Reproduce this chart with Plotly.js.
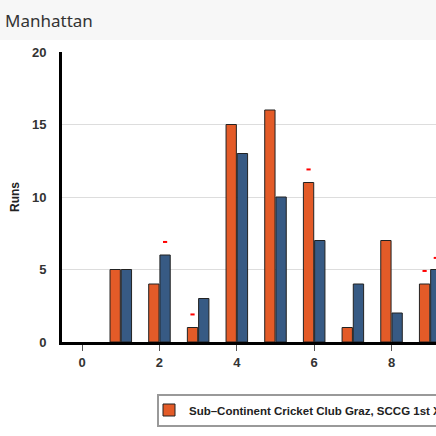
<!DOCTYPE html>
<html>
<head>
<meta charset="utf-8">
<script src="https://cdn.plot.ly/plotly-3.0.1.min.js"></script>
<style>html,body{margin:0;padding:0;background:#fff;}#chart{width:436px;height:436px;}</style>
</head>
<body>
<div id="chart"></div>
<script>
var overs = [1, 2, 3, 4, 5, 6, 7, 8, 9];
var teamARuns = [5, 4, 1, 15, 16, 11, 1, 7, 4];
var teamBRuns = [5, 6, 3, 13, 10, 7, 4, 2, 5];
var teamAName = "Sub–Continent Cricket Club Graz, SCCG 1st XI";
var teamBName = "Opposition";
var teamAWicketOvers = [3, 6, 9];
var teamAWicketY = [1.9, 11.9, 4.9];
var teamBWicketOvers = [2, 9];
var teamBWicketY = [6.9, 5.8];

var orange = "#e35b28", blue = "#375a84";
var M = {l: 62, r: 0, t: 52, b: 94};
var W = 436, H = 436;
var pw = W - M.l - M.r, ph = H - M.t - M.b;

var traces = [
  {type: "bar", x: overs, y: teamARuns, name: teamAName, offsetgroup: "a",
   marker: {color: orange, line: {color: "#222", width: 1}}, showlegend: true},
  {type: "bar", x: overs, y: teamBRuns, name: teamBName, offsetgroup: "b",
   marker: {color: blue, line: {color: "#222", width: 1}}, showlegend: false},
  {type: "scatter", mode: "markers", x: teamAWicketOvers, y: teamAWicketY, offsetgroup: "a",
   marker: {symbol: "line-ew", size: 3, line: {color: "#ff0000", width: 2}}, showlegend: false, hoverinfo: "skip"},
  {type: "scatter", mode: "markers", x: teamBWicketOvers, y: teamBWicketY, offsetgroup: "b",
   marker: {symbol: "line-ew", size: 3, line: {color: "#ff0000", width: 2}}, showlegend: false, hoverinfo: "skip"}
];

var layout = {
  width: W, height: H,
  margin: M,
  paper_bgcolor: "#fff", plot_bgcolor: "#fff",
  barmode: "group", scattermode: "group",
  bargap: 0.42, bargroupgap: 0.08,
  title: {text: "Manhattan", x: 5 / W, xanchor: "left", xref: "container",
          y: 1 - 21 / H, yanchor: "middle", yref: "container",
          font: {family: "Noto Sans, Lato, sans-serif", size: 17, color: "#333"}},
  shapes: [{type: "rect", xref: "paper", yref: "paper",
            x0: -M.l / pw, x1: 1 + 1 / pw, y0: 1 + (M.t - 40) / ph, y1: 1 + (M.t + 2) / ph,
            fillcolor: "#f7f7f7", line: {width: 0}, layer: "below"}],
  xaxis: {range: [-0.52, 9.15], dtick: 2, tick0: 0, showgrid: false, zeroline: false,
          showline: true, linewidth: 3, linecolor: "#000",
          ticks: "outside", ticklen: 6, tickwidth: 1, tickcolor: "#555",
          tickfont: {family: "Liberation Sans, Arial, sans-serif", size: 13, color: "#333", weight: "bold"},
          fixedrange: true},
  yaxis: {range: [0, 20], dtick: 5, showgrid: true, gridcolor: "#dddddd", gridwidth: 1, zeroline: false,
          showline: true, linewidth: 3, linecolor: "#000", ticks: "", ticklabelstandoff: 10,
          tickfont: {family: "Liberation Sans, Arial, sans-serif", size: 13, color: "#333", weight: "bold"},
          title: {text: "Runs", standoff: 10, font: {family: "Liberation Sans, Arial, sans-serif", size: 12, color: "#222", weight: "bold"}},
          fixedrange: true},
  showlegend: true,
  legend: {orientation: "h", xref: "container", yref: "container", x: 157 / W, xanchor: "left",
           y: 1 - 410 / H, yanchor: "middle", bgcolor: "#fff", bordercolor: "#999", borderwidth: 2,
           indentation: -10,
           font: {family: "Liberation Sans, Arial, sans-serif", size: 11.5, color: "#222", weight: "bold"}}
};

Plotly.newPlot("chart", traces, layout, {displayModeBar: false, staticPlot: true});
</script>
</body>
</html>
